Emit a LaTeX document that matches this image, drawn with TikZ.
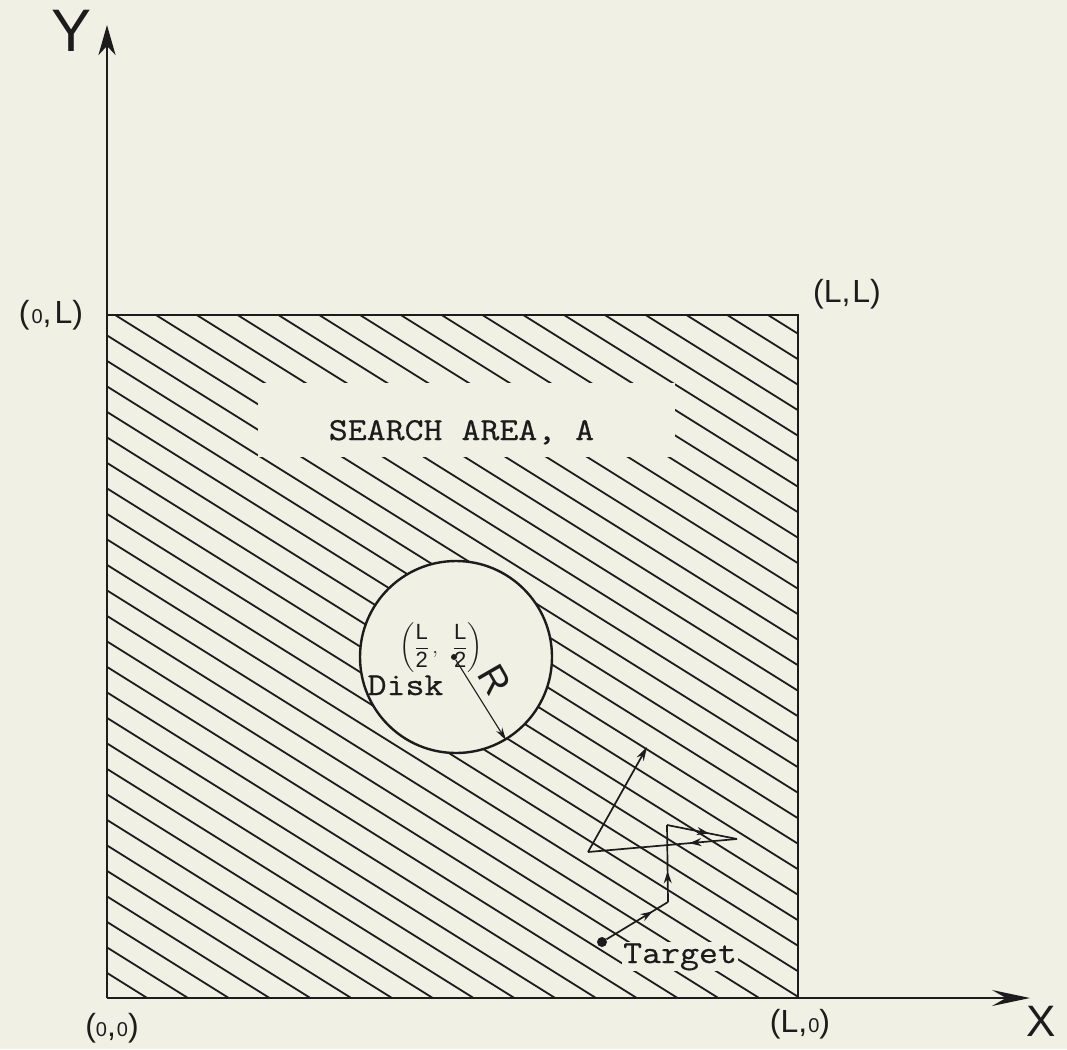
\documentclass[tikz,border=0pt]{standalone}
\usepackage{fontspec}
\usepackage{amsmath}
\setmonofont{Latin Modern Mono}[FakeStretch=1.15, FakeBold=0.6]
\newfontfamily\hand{Liberation Sans}
\usetikzlibrary{arrows.meta,decorations.markings}
\definecolor{bg}{RGB}{240,240,228}
\definecolor{ink}{RGB}{28,28,28}
\tikzset{
  hatchline/.style={ink, line width=1.8pt},
  frameline/.style={ink, line width=2.6pt},
  pathline/.style={ink, line width=1.7pt},
  midarrow/.style={postaction={decorate}, decoration={markings,
     mark=at position #1 with {\arrow{Stealth[length=12pt,width=8pt]}}}},
  ttlabel/.style={font=\ttfamily\fontsize{32}{32}\selectfont, text=ink, inner sep=0pt},
  handlabel/.style={font=\hand\fontsize{32}{32}\selectfont, text=ink, inner sep=0pt}
}
\begin{document}
\begin{tikzpicture}[x=1pt,y=-1pt]
\fill[bg] (0,0) rectangle (1067,1049);
\useasboundingbox (0,0) rectangle (1067,1049);
% hatching
\begin{scope}
  \clip (107,315) rectangle (798,998);
  \foreach \k in {-37,...,7} {
    \pgfmathsetmacro\c{753+25.5*\k}
    \draw[hatchline] (100,62.5+\c) -- (805,503.125+\c);
  }
\end{scope}
% clear area around the title
\fill[bg] (258,383) rectangle (675,457);
% square search area
\draw[frameline] (107,315) -- (798,315) -- (798,998);
% disk
\node[circle, draw=ink, fill=bg, line width=2.4pt, minimum size=192pt, inner sep=0pt] (disk) at (456,657) {};
% axes
\coordinate (O) at (107,998);
\coordinate (ytip) at (107,25);
\coordinate (xtip) at (1030,998);
\draw[frameline, -{Stealth[length=30pt,width=17pt,inset=9pt]}] (O) -- (ytip);
\draw[frameline, -{Stealth[length=38pt,width=16pt,inset=14pt]}] (O) -- (xtip);
% axis labels
\node[font=\hand\fontsize{60}{60}\selectfont, text=ink, inner sep=0pt] (ylab) at (72,31) {Y};
\node[font=\hand\fontsize{44}{44}\selectfont, text=ink, inner sep=0pt] (xlab) at (1041,1021) {X};
\node[handlabel] (lab0L) at (51,315) {(\hspace{2pt}{\fontsize{20}{20}\selectfont 0},\hspace{3pt}L)};
\node[handlabel] (labLL) at (847,294) {(L,\hspace{2pt}L)};
\node[handlabel] (lab00) at (112,1028) {({\fontsize{20}{20}\selectfont 0},\hspace{1pt}{\fontsize{20}{20}\selectfont 0})};
\node[handlabel] (labL0) at (800,1024) {(L,\hspace{1pt}{\fontsize{20}{20}\selectfont 0})};
% title
\node[ttlabel, anchor=base] (title) at (461.5,440) {SEARCH AREA, A};
% disk labels
\node[circle, fill=ink, inner sep=0pt, minimum size=6pt] (cdot) at (454,657) {};
\node[text=ink, inner sep=0pt, font=\hand\fontsize{22}{26}\selectfont] (clab) at (441,648)
  {$\left(\dfrac{\text{L}}{\text{2}}\,,\;\;\dfrac{\text{L}}{\text{2}}\right)$};
\draw[ink, line width=1.1pt, -{Stealth[length=13pt,width=7pt]}] (cdot) -- (disk.-59.6);
\node[text=ink, inner sep=0pt, rotate=-60, font=\hand\fontsize{38}{38}\selectfont] (rlab) at (495,680) {R};
\node[ttlabel, anchor=base] (disklab) at (405.5,695) {Disk};
% target
\node[ttlabel, anchor=base, fill=bg, inner sep=1pt] (tlab) at (680,963) {Target};
\node[circle, fill=ink, inner sep=0pt, minimum size=10pt] (tdot) at (602,942) {};
\coordinate (t1) at (668,902);
\coordinate (t2) at (667,825);
\coordinate (t3) at (737,839);
\coordinate (t4) at (588,852);
\coordinate (t5) at (647,747);
\draw[pathline, midarrow=0.75] (tdot) -- (t1);
\draw[pathline, midarrow=0.4] (t1) -- (t2);
\draw[pathline, midarrow=0.6] (t2) -- (t3);
\draw[pathline, midarrow=0.32] (t3) -- (t4);
\draw[pathline, -{Stealth[length=14pt,width=8pt]}] (t4) -- (t5);
\end{tikzpicture}
\end{document}
